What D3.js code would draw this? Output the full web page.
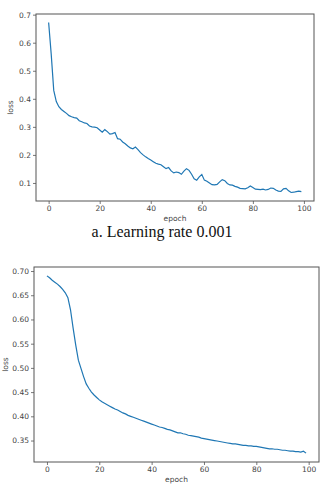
<!DOCTYPE html>
<html>
<head>
<meta charset="utf-8">
<script src="https://cdn.jsdelivr.net/npm/d3@7"></script>
<style>
  body { margin: 0; background: #fff; }
  svg { display: block; }
</style>
</head>
<body>
<div id="chart"></div>
<script>
// loss per epoch, learning rate 0.001 (top panel)
const lossLr001 = [
  0.672, 0.560, 0.430, 0.390, 0.372, 0.362, 0.355, 0.348, 0.340, 0.336,
  0.333, 0.331, 0.322, 0.318, 0.314, 0.312, 0.303, 0.300, 0.299, 0.297,
  0.289, 0.281, 0.290, 0.283, 0.274, 0.276, 0.280, 0.258, 0.256, 0.246,
  0.240, 0.232, 0.225, 0.222, 0.228, 0.219, 0.208, 0.200, 0.193, 0.187,
  0.182, 0.176, 0.170, 0.167, 0.165, 0.158, 0.151, 0.155, 0.143, 0.136,
  0.139, 0.137, 0.131, 0.142, 0.151, 0.145, 0.131, 0.115, 0.110, 0.122,
  0.130, 0.110, 0.106, 0.100, 0.094, 0.093, 0.095, 0.104, 0.112, 0.108,
  0.098, 0.093, 0.092, 0.088, 0.085, 0.081, 0.080, 0.079, 0.083, 0.089,
  0.084, 0.078, 0.077, 0.076, 0.078, 0.075, 0.077, 0.082, 0.081, 0.075,
  0.071, 0.070, 0.079, 0.081, 0.072, 0.066, 0.067, 0.069, 0.071, 0.069
];
// loss per epoch, bottom panel
const lossLrB = [
  0.690, 0.686, 0.681, 0.677, 0.673, 0.668, 0.662, 0.655, 0.645, 0.620,
  0.582, 0.547, 0.516, 0.499, 0.482, 0.467, 0.458, 0.450, 0.444, 0.439,
  0.434, 0.430, 0.427, 0.424, 0.421, 0.418, 0.415, 0.413, 0.410, 0.407,
  0.405, 0.402, 0.400, 0.398, 0.396, 0.394, 0.392, 0.390, 0.388, 0.386,
  0.384, 0.382, 0.380, 0.378, 0.377, 0.375, 0.373, 0.372, 0.370, 0.368,
  0.366, 0.366, 0.364, 0.363, 0.361, 0.360, 0.359, 0.358, 0.357, 0.355,
  0.354, 0.353, 0.352, 0.351, 0.350, 0.349, 0.348, 0.347, 0.346, 0.345,
  0.344, 0.343, 0.343, 0.342, 0.341, 0.340, 0.340, 0.339, 0.339, 0.338,
  0.338, 0.337, 0.336, 0.335, 0.334, 0.333, 0.333, 0.332, 0.332, 0.331,
  0.330, 0.330, 0.329, 0.328, 0.328, 0.327, 0.327, 0.326, 0.328, 0.324
];
const xTicks = [0, 20, 40, 60, 80, 100];
const yTicksTop = [0.1, 0.2, 0.3, 0.4, 0.5, 0.6, 0.7];
const yTicksBottom = [0.35, 0.40, 0.45, 0.50, 0.55, 0.60, 0.65, 0.70];
const captionTop = "a. Learning rate 0.001";

var width = 323, height = 487;
var svg = d3.select("#chart").append("svg")
    .attr("width", width)
    .attr("height", height);

function panel(values, box, yDomain, yTicks, yFmt, yLabelX) {
    var x = d3.scaleLinear().domain([-4.95, 103.95]).range([box.left, box.right]);
    var y = d3.scaleLinear().domain(yDomain).range([box.bottom, box.top]);
    var g = svg.append("g");

    var xAxis = g.append("g")
        .attr("transform", "translate(0," + box.bottom + ")")
        .call(d3.axisBottom(x).tickValues(xTicks).tickSize(3).tickPadding(2));
    var yAxis = g.append("g")
        .attr("transform", "translate(" + box.left + ",0)")
        .call(d3.axisLeft(y).tickValues(yTicks).tickFormat(d3.format(yFmt)).tickSize(3).tickPadding(2));
    [xAxis, yAxis].forEach(a => {
        a.select(".domain").remove();
        a.selectAll("line").attr("stroke", "#555").attr("stroke-width", 0.8);
        a.selectAll("text")
            .attr("fill", "#444")
            .style("font-family", "DejaVu Sans, sans-serif")
            .style("font-size", "7.5px");
    });

    g.append("path")
        .datum(values)
        .attr("fill", "none")
        .attr("stroke", "#1f77b4")
        .attr("stroke-width", 1.2)
        .attr("d", d3.line().x((d, i) => x(i)).y(d => y(d)));

    // frame
    g.append("rect")
        .attr("x", box.left).attr("y", box.top)
        .attr("width", box.right - box.left)
        .attr("height", box.bottom - box.top)
        .attr("fill", "none")
        .attr("stroke", "#555")
        .attr("stroke-width", 1);

    g.append("text")
        .attr("x", (box.left + box.right) / 2)
        .attr("y", box.bottom + 20)
        .attr("text-anchor", "middle")
        .attr("fill", "#444")
        .style("font-family", "DejaVu Sans, sans-serif")
        .style("font-size", "7.5px")
        .text("epoch");

    var cy = (box.top + box.bottom) / 2;
    g.append("text")
        .attr("transform", "translate(" + yLabelX + "," + cy + ") rotate(-90)")
        .attr("text-anchor", "middle")
        .attr("fill", "#444")
        .style("font-family", "DejaVu Sans, sans-serif")
        .style("font-size", "7.5px")
        .text("loss");
}

panel(lossLr001, {left: 36, right: 314, top: 14, bottom: 201},
      [0.0357, 0.7023], yTicksTop, ".1f", 13);

svg.append("text")
    .attr("x", 162)
    .attr("y", 237)
    .attr("text-anchor", "middle")
    .attr("fill", "#111")
    .style("font-family", "Liberation Serif, serif")
    .style("font-size", "16px")
    .text(captionTop);

panel(lossLrB, {left: 34, right: 319, top: 267, bottom: 462},
      [0.3057, 0.7083], yTicksBottom, ".2f", 7.5);
</script>
</body>
</html>
